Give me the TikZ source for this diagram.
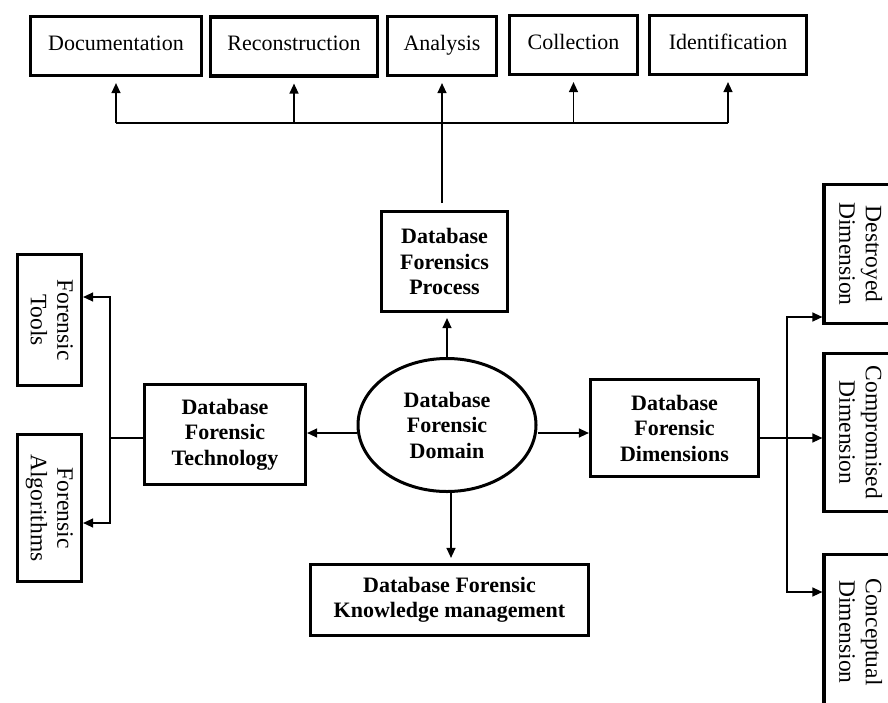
\documentclass[tikz,border=0pt]{standalone}
\usepackage{fontspec}
\setmainfont{Liberation Serif}
\usepackage{graphicx}
\usetikzlibrary{arrows.meta,shapes.geometric}

\tikzset{
  box/.style={draw, line width=3.2pt, inner sep=0pt, align=center},
  topbox/.style={box, minimum height=59pt, text height=14pt, text depth=6pt,
    font=\fontsize{22}{26}\selectfont},
  mainbox/.style={box, font=\fontsize{22}{25.5}\selectfont\bfseries},
  sidebox/.style={box, minimum width=64pt, font=\fontsize{23.5}{26.5}\selectfont},
  link/.style={line width=1.3pt},
  arr/.style={link, -{Triangle[length=10pt,width=9pt]}},
}
% two lines of text turned to read from top to bottom
\newcommand{\vtext}[2]{\rotatebox[origin=c]{-90}{\begin{tabular}{@{}c@{}}#1\\#2\end{tabular}}}

\begin{document}
\begin{tikzpicture}[x=1pt,y=-1pt]
\useasboundingbox (0,0) rectangle (888,702);
\fill[white] (0,0) rectangle (888,702);
\begin{scope}
\clip (0,0) rectangle (888,702);

% process steps
\node[topbox, minimum width=171pt] (doc) at (116,46) {Documentation};
\node[topbox, minimum width=167pt] (rec) at (294,46.5) {Reconstruction};
\node[topbox, minimum width=109pt] (ana) at (442,46) {Analysis};
\node[topbox, minimum width=128pt] (col) at (573.5,45) {Collection};
\node[topbox, minimum width=157pt] (ide) at (728,45) {Identification};

% central domain and its four branches
\node[mainbox, minimum width=126pt, minimum height=100pt] (proc) at (444.5,261.5) {Database\\Forensics\\Process};
\node[mainbox, ellipse, line width=3pt, minimum width=178pt, minimum height=133pt] (dom) at (447,425) {Database\\Forensic\\Domain};
\node[mainbox, minimum width=161pt, minimum height=100pt] (tech) at (225,434.5) {Database\\Forensic\\Technology};
\node[mainbox, minimum width=168pt, minimum height=97pt] (dim) at (674.5,428) {Database\\Forensic\\Dimensions};
\node[mainbox, minimum width=278pt, minimum height=71pt] (know) at (449.5,600) {Database Forensic\\Knowledge management};

% technology parts
\node[sidebox, minimum height=131pt] (tools) at (49.5,320) {\vtext{Forensic}{Tools}};
\node[sidebox, minimum height=147pt] (algo) at (49.5,508) {\vtext{Forensic}{Algorithms}};

% dimensions
\node[sidebox, minimum width=68pt, minimum height=139pt] (destr) at (858,254) {\vtext{Destroyed}{Dimension}};
\node[sidebox, minimum width=68pt, minimum height=158pt] (comp) at (858,432.5) {\vtext{Compromised}{Dimension}};
\node[sidebox, minimum width=68pt, minimum height=155pt] (conc) at (858,632) {\vtext{Conceptual}{Dimension}};

% process bus
\coordinate (bus) at (442,123);
\coordinate (pgap) at (442,203);
\draw[link] (doc.south |- bus) -- (ide.south |- bus);
\draw[link] (pgap) -- (bus);
\foreach \n in {doc,rec,ana,col,ide}
  \draw[arr, shorten >=6pt] (\n.south |- bus) -- (\n.south);

% from the domain
\draw[arr, shorten >=5pt] (dom.north) -- (dom.north |- proc.south);
\draw[arr] ([yshift=-8pt]dom.west) -- ([yshift=-8pt]dom.west -| tech.east);
\draw[arr] ([yshift=-8pt]dom.east) -- ([yshift=-8pt]dom.east -| dim.west);
\draw[arr, shorten >=5pt] ([xshift=4pt]dom.south) -- ([xshift=4pt]dom.south |- know.north);

% technology split
\coordinate (ltrunk) at (110,438);
\draw[link] (tech.west |- ltrunk) -- (ltrunk);
\draw[arr] (ltrunk) |- ([yshift=23pt]tools.east);
\draw[arr] (ltrunk) |- ([yshift=-15pt]algo.east);

% dimensions split
\coordinate (rtrunk) at (787,438);
\draw[link] (dim.east |- rtrunk) -- (rtrunk);
\draw[arr] (rtrunk) |- ([yshift=-63pt]destr.west);
\draw[arr] (rtrunk) -- (rtrunk -| comp.west);
\draw[arr] (rtrunk) |- ([yshift=40pt]conc.west);
\end{scope}
\end{tikzpicture}
\end{document}
